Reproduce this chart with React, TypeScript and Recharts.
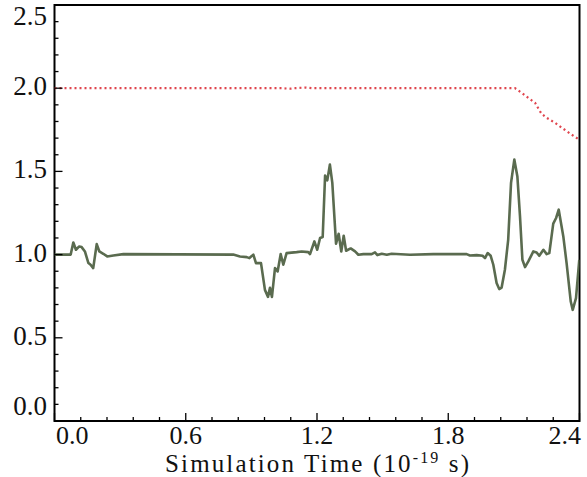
import { LineChart, Line, XAxis, YAxis, ReferenceArea } from "recharts"

// normalized signal
const signalTime = [
  0, 0.074, 0.086, 0.098, 0.113, 0.124, 0.139, 0.155, 0.165, 0.177, 0.193, 0.205, 0.223, 0.241, 0.269, 0.315,
  0.817, 0.848, 0.879, 0.891, 0.909, 0.921, 0.944, 0.962, 0.976, 0.985, 0.994, 1.008, 1.02, 1.034, 1.046, 1.061,
  1.107, 1.13, 1.16, 1.168, 1.188, 1.201, 1.214, 1.226, 1.237, 1.247, 1.259, 1.27, 1.287, 1.299, 1.311, 1.322,
  1.333, 1.354, 1.374, 1.389, 1.412, 1.45, 1.465, 1.476, 1.496, 1.519, 1.541, 1.625, 1.732, 1.884, 1.899, 1.93,
  1.957, 1.968, 1.98, 1.994, 2.006, 2.021, 2.033, 2.044, 2.059, 2.074, 2.087, 2.102, 2.116, 2.128, 2.139, 2.151,
  2.166, 2.189, 2.204, 2.216, 2.235, 2.25, 2.262, 2.28, 2.293, 2.305, 2.326, 2.341, 2.36, 2.369, 2.384, 2.399,
]
const signalValue = [
  1.0, 1.0, 1.073, 1.029, 1.049, 1.045, 1.019, 0.949, 0.939, 0.919, 1.063, 1.019, 1.005, 0.989, 0.995, 1.003,
  1.0, 0.989, 0.985, 0.979, 1.0, 0.949, 0.949, 0.788, 0.746, 0.8, 0.746, 0.919, 0.899, 1.003, 0.939, 1.009,
  1.015, 1.019, 1.015, 1.003, 1.079, 1.029, 1.1, 1.106, 1.475, 1.446, 1.541, 1.431, 1.065, 1.125, 1.019, 1.113,
  1.023, 1.037, 1.019, 0.999, 1.003, 1.003, 1.013, 0.997, 1.005, 0.999, 1.005, 0.999, 1.003, 1.003, 0.995, 0.997,
  0.993, 0.979, 1.009, 0.993, 0.939, 0.829, 0.793, 0.802, 0.909, 1.089, 1.431, 1.571, 1.47, 1.23, 0.969, 0.925,
  0.959, 1.019, 1.013, 0.993, 1.029, 1.003, 1.009, 1.186, 1.22, 1.27, 1.109, 0.949, 0.718, 0.668, 0.738, 0.969,
]

// upper bound (dotted red)
const boundTime = [0, 1.04, 1.075, 1.1, 1.145, 1.18, 2.105, 2.136, 2.166, 2.197, 2.219, 2.227, 2.25, 2.288, 2.326, 2.364, 2.394]
const boundValue = [2.0, 2.0, 1.997, 2.0, 2.004, 2.0, 2.0, 1.972, 1.942, 1.912, 1.862, 1.846, 1.822, 1.792, 1.756, 1.721, 1.695]

const xMajorTicks = [0, 0.6, 1.2, 1.8, 2.4]
const xTickLabels = ["0.0", "0.6", "1.2", "1.8", "2.4"]
const xMinorTicks = [0.12, 0.24, 0.36, 0.48, 0.72, 0.84, 0.96, 1.08, 1.32, 1.44, 1.56, 1.68, 1.92, 2.04, 2.16, 2.28]
const yMajorTicks = [0, 0.5, 1.0, 1.5, 2.0, 2.5]
const yTickLabels = ["0.0", "0.5", "1.0", "1.5", "2.0", "2.5"]
const yMinorTicks = [0.1, 0.2, 0.3, 0.4, 0.6, 0.7, 0.8, 0.9, 1.1, 1.2, 1.3, 1.4, 1.6, 1.7, 1.8, 1.9, 2.1, 2.2, 2.3, 2.4]

const signalData = signalTime.map((t, i) => ({ t, v: signalValue[i] }))
const boundData = boundTime.map((t, i) => ({ t, v: boundValue[i] }))

const FONT = "Liberation Serif, Times New Roman, serif"

const majorIndex = (ticks: number[], value: number) => ticks.findIndex((v) => Math.abs(v - value) < 1e-6)

function XTick(props: any) {
  const { x, y, payload } = props
  const idx = majorIndex(xMajorTicks, payload.value)
  const major = idx >= 0
  let anchor = "middle"
  let tx = x
  // edge labels are pulled inside the frame
  if (idx === 0) {
    anchor = "start"
    tx = x + 1.5
  } else if (idx === xMajorTicks.length - 1) {
    anchor = "end"
    tx = x + 1.5
  }
  return (
    <g>
      <line x1={x} x2={x} y1={y} y2={y - (major ? 8 : 4)} stroke="#000" strokeWidth={1.3} />
      {major && (
        <text x={tx} y={y + 23} textAnchor={anchor} style={{ fontFamily: FONT }} fontSize={26} fill="#111">
          {xTickLabels[idx]}
        </text>
      )}
    </g>
  )
}

function YTick(props: any) {
  const { x, y, payload } = props
  const idx = majorIndex(yMajorTicks, payload.value)
  const major = idx >= 0
  let ty = y - 2
  if (idx === 0) ty = y - 15
  else if (idx === yMajorTicks.length - 1) ty = y + 11
  return (
    <g>
      <line x1={x} x2={x + (major ? 8 : 4)} y1={y} y2={y} stroke="#000" strokeWidth={1.3} />
      {major && (
        <text
          x={x - 7.5}
          y={ty}
          textAnchor="end"
          dominantBaseline="central"
          style={{ fontFamily: FONT }}
          fontSize={27}
          fill="#111"
        >
          {yTickLabels[idx]}
        </text>
      )}
    </g>
  )
}

function XTitle() {
  return (
    <text
      x={317}
      y={471.5}
      textAnchor="middle"
      style={{ fontFamily: FONT }}
      fontSize={25}
      fill="#111"
      textLength={304}
      lengthAdjust="spacing"
    >
      Simulation Time (10
      <tspan dy={-9} fontSize={16}>-19</tspan>
      <tspan dy={9}> s)</tspan>
    </text>
  )
}

export default function App() {
  return (
    <div style={{ position: "absolute", left: 0, top: 0, width: 587, height: 477, background: "#fff" }}>
      <LineChart width={587} height={477} margin={{ top: 5, right: 7.5, left: 0, bottom: 0 }}>
        <XAxis
          type="number"
          dataKey="t"
          domain={[0, 2.4]}
          allowDataOverflow
          ticks={[...xMajorTicks, ...xMinorTicks].sort((a, b) => a - b)}
          interval={0}
          tick={<XTick />}
          tickLine={false}
          axisLine={false}
          tickSize={0}
          tickMargin={0}
          height={56}
          label={<XTitle />}
        />
        <YAxis
          type="number"
          dataKey="v"
          domain={[0, 2.5]}
          allowDataOverflow
          ticks={[...yMajorTicks, ...yMinorTicks].sort((a, b) => a - b)}
          interval={0}
          tick={<YTick />}
          tickLine={false}
          axisLine={false}
          tickSize={0}
          tickMargin={0}
          width={54.5}
        />
        <ReferenceArea x1={0} x2={2.4} y1={0} y2={2.5} fill="none" fillOpacity={0} stroke="#000" strokeWidth={2} />
        <Line
          data={boundData}
          dataKey="v"
          type="linear"
          stroke="#e0454e"
          strokeWidth={2.2}
          strokeDasharray="2 3"
          dot={false}
          isAnimationActive={false}
        />
        <Line
          data={signalData}
          dataKey="v"
          type="linear"
          stroke="#5a6b4f"
          strokeWidth={2.6}
          strokeLinejoin="round"
          dot={false}
          isAnimationActive={false}
        />
      </LineChart>
    </div>
  )
}
